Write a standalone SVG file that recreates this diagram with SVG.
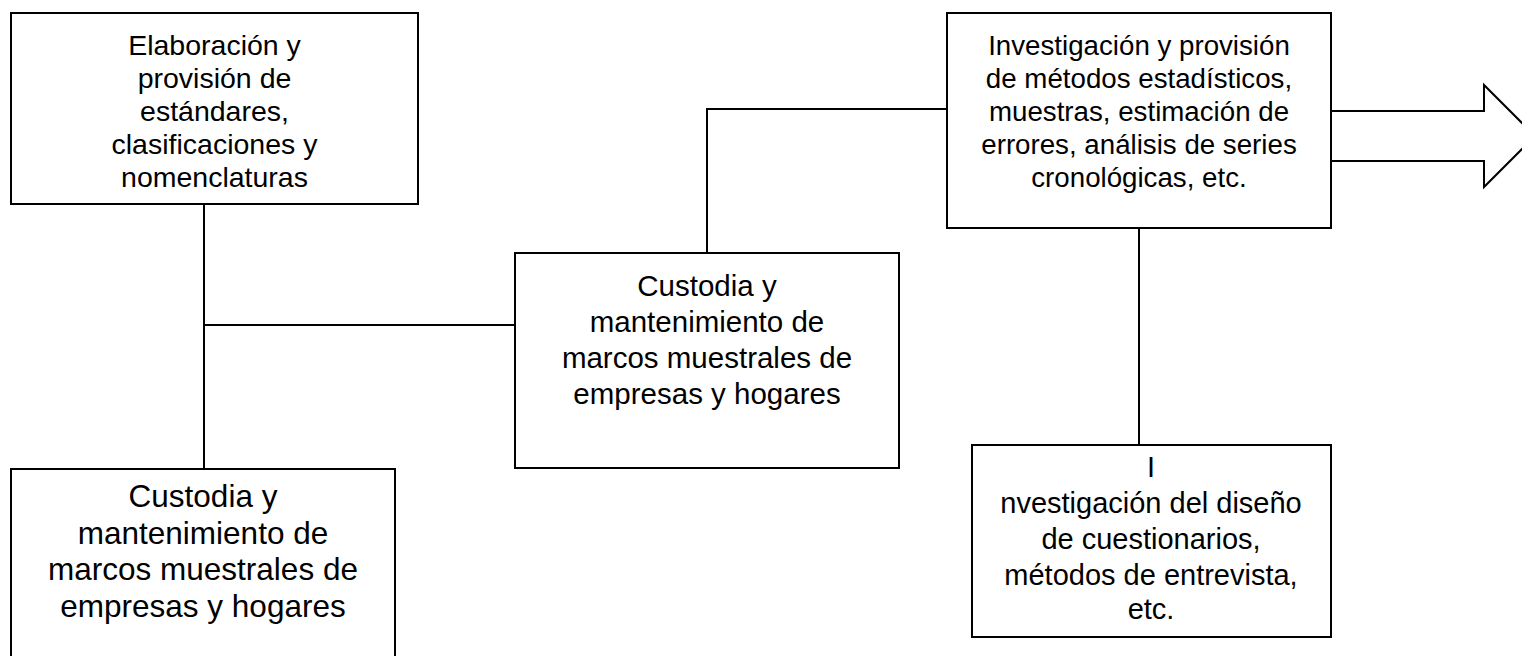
<svg xmlns="http://www.w3.org/2000/svg" width="1522" height="656" viewBox="0 0 1522 656">
<style>
.box{fill:#fff;stroke:#000;stroke-width:2}
.ln{fill:none;stroke:#000;stroke-width:2}
text{font-family:"Liberation Sans",Arial,sans-serif;fill:#000;text-anchor:middle}
</style>
<rect width="1522" height="656" fill="#fff"/>
<g id="connectors">
<line class="ln" x1="204" y1="204" x2="204" y2="469"/>
<line class="ln" x1="204" y1="325" x2="515" y2="325"/>
<polyline class="ln" points="707,253 707,109 947,109"/>
<line class="ln" x1="1139" y1="228" x2="1139" y2="445"/>
<polygon class="box" points="1331,111 1484,111 1484,85 1535,136 1484,187 1484,161 1331,161"/>
</g>
<g id="nodeA">
<rect class="box" x="11" y="13" width="407" height="191"/>
<text font-size="28.5"><tspan x="214.5" y="55">Elaboración y</tspan><tspan x="214.5" y="88">provisión de</tspan><tspan x="214.5" y="121">estándares,</tspan><tspan x="214.5" y="154">clasificaciones y</tspan><tspan x="214.5" y="187">nomenclaturas</tspan></text>
</g>
<g id="nodeB">
<rect class="box" x="11" y="469" width="384" height="240"/>
<text font-size="31.5"><tspan x="203" y="507">Custodia y</tspan><tspan x="203" y="543.7">mantenimiento de</tspan><tspan x="203" y="580.3">marcos muestrales de</tspan><tspan x="203" y="617">empresas y hogares</tspan></text>
</g>
<g id="nodeC">
<rect class="box" x="515" y="253" width="384" height="215"/>
<text font-size="29.5"><tspan x="707" y="296">Custodia y</tspan><tspan x="707" y="332">mantenimiento de</tspan><tspan x="707" y="368">marcos muestrales de</tspan><tspan x="707" y="404">empresas y hogares</tspan></text>
</g>
<g id="nodeD">
<rect class="box" x="947" y="13" width="384" height="215"/>
<text font-size="27.7"><tspan x="1139" y="55">Investigación y provisión</tspan><tspan x="1139" y="88">de métodos estadísticos,</tspan><tspan x="1139" y="121">muestras, estimación de</tspan><tspan x="1139" y="154">errores, análisis de series</tspan><tspan x="1139" y="187">cronológicas, etc.</tspan></text>
</g>
<g id="nodeE">
<rect class="box" x="972" y="445" width="359" height="192"/>
<text font-size="29"><tspan x="1151" y="477">I</tspan><tspan x="1151" y="513">nvestigación del diseño</tspan><tspan x="1151" y="549">de cuestionarios,</tspan><tspan x="1151" y="584.5">métodos de entrevista,</tspan><tspan x="1151" y="619">etc.</tspan></text>
</g>
</svg>
